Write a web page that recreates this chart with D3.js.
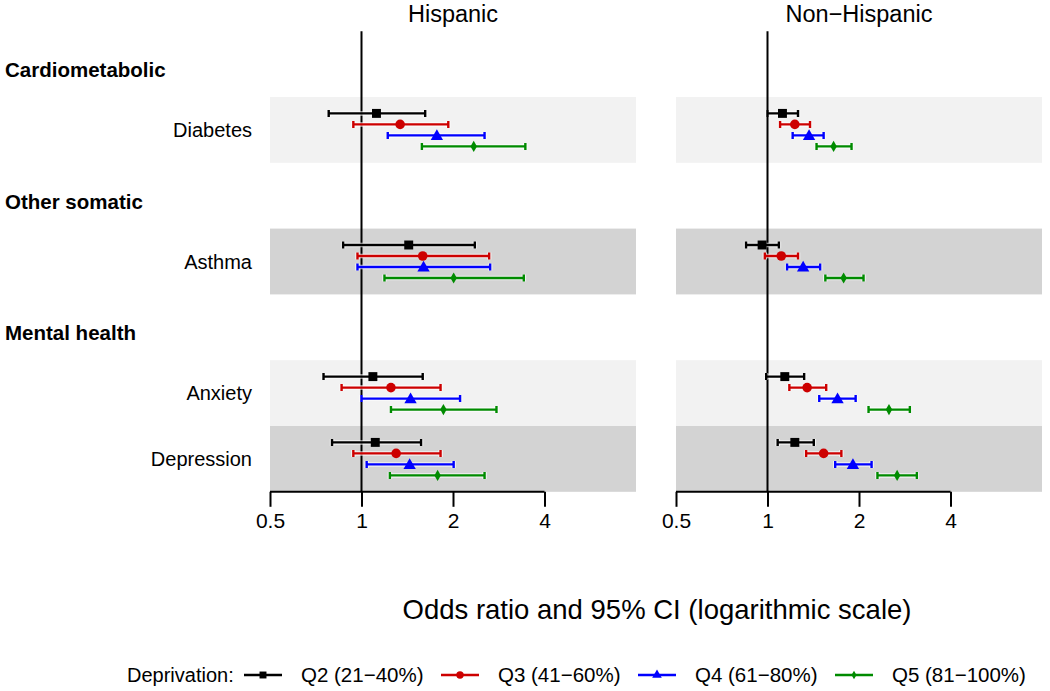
<!DOCTYPE html>
<html>
<head>
<meta charset="utf-8">
<script src="https://cdn.jsdelivr.net/npm/d3@7"></script>
<style>
  body { margin: 0; background: #fff; }
  svg { display: block; font-family: "Liberation Sans", Arial, Helvetica, sans-serif; }
</style>
</head>
<body>
<div id="output"></div>
<script>
// Panels, outcomes and deprivation quintiles
const ethnicities = ["Hispanic", "Non\u2212Hispanic"];
const groups = ["Cardiometabolic", "Other somatic", "Mental health"];
const outcomes = ["Diabetes", "Asthma", "Anxiety", "Depression"];
const outcomeRow = [0, 2, 4, 5];       // row index of each outcome
const groupRow = [0, 2, 4];            // header sits just above this row
const quintiles = ["Q2 (21\u221240%)", "Q3 (41\u221260%)", "Q4 (61\u221280%)", "Q5 (81\u2212100%)"];
const xTicks = [0.5, 1, 2, 4];

// Odds ratios [outcome][quintile]
const hispanicOR = [
  [1.12, 1.34, 1.77, 2.34],
  [1.43, 1.59, 1.60, 2.01],
  [1.09, 1.25, 1.45, 1.86],
  [1.11, 1.30, 1.44, 1.78]
];
const hispanicLower = [
  [0.78, 0.94, 1.22, 1.58],
  [0.87, 0.97, 0.97, 1.19],
  [0.75, 0.86, 1.00, 1.25],
  [0.80, 0.94, 1.04, 1.24]
];
const hispanicUpper = [
  [1.62, 1.93, 2.54, 3.46],
  [2.36, 2.63, 2.65, 3.42],
  [1.59, 1.82, 2.11, 2.78],
  [1.57, 1.82, 2.01, 2.54]
];
const nonHispanicOR = [
  [1.12, 1.23, 1.37, 1.65],
  [0.96, 1.11, 1.31, 1.78],
  [1.14, 1.35, 1.70, 2.51],
  [1.23, 1.53, 1.91, 2.67]
];
const nonHispanicLower = [
  [1.00, 1.10, 1.21, 1.45],
  [0.85, 0.98, 1.16, 1.55],
  [0.99, 1.18, 1.48, 2.15],
  [1.08, 1.34, 1.67, 2.30]
];
const nonHispanicUpper = [
  [1.26, 1.38, 1.53, 1.89],
  [1.09, 1.26, 1.49, 2.07],
  [1.32, 1.56, 1.95, 2.94],
  [1.42, 1.75, 2.20, 3.10]
];

const colors = ["#000000", "#CD0000", "#0000FF", "#008B00"];
const shapes = [d3.symbolSquare, d3.symbolCircle, d3.symbolTriangle, d3.symbolDiamond];
const shapeSizes = [80, 72, 66, 36];

function PlotGraph(parent_element = "output") {
  const W = 1050, H = 691;
  const svg = d3.select("#" + parent_element).append("svg")
    .attr("width", W)
    .attr("height", H);

  // Row scale: top of each 66px row band
  const rowH = 65.8;
  const y = d3.scaleLinear().domain([0, 1]).range([97, 97 + rowH]);
  const plotTop = y(-1), plotBottom = y(6);

  const panels = [
    {name: ethnicities[0], or: hispanicOR, lo: hispanicLower, hi: hispanicUpper,
     x: d3.scaleLog().domain([0.5, 8]).range([270, 636])},
    {name: ethnicities[1], or: nonHispanicOR, lo: nonHispanicLower, hi: nonHispanicUpper,
     x: d3.scaleLog().domain([0.5, 8]).range([676, 1042])}
  ];

  // Group headers and outcome labels
  groups.forEach((g, i) => {
    svg.append("text")
      .attr("x", 5)
      .attr("y", y(groupRow[i]) - 20)
      .attr("font-size", 20.5)
      .attr("font-weight", "bold")
      .text(g);
  });
  outcomes.forEach((o, i) => {
    svg.append("text")
      .attr("x", 252)
      .attr("y", y(outcomeRow[i] + 0.5) + 7)
      .attr("text-anchor", "end")
      .attr("font-size", 20)
      .text(o);
  });

  panels.forEach(p => {
    const x = p.x;
    const g = svg.append("g");

    // Shaded row bands
    outcomes.forEach((o, i) => {
      g.append("rect")
        .attr("x", x.range()[0])
        .attr("y", y(outcomeRow[i]))
        .attr("width", x.range()[1] - x.range()[0])
        .attr("height", rowH)
        .attr("fill", i % 2 === 0 ? "#f2f2f2" : "#d3d3d3");
    });

    // Panel title
    g.append("text")
      .attr("x", (x.range()[0] + x.range()[1]) / 2)
      .attr("y", 22)
      .attr("text-anchor", "middle")
      .attr("font-size", 23.5)
      .text(p.name);

    // Reference line at OR = 1
    g.append("line")
      .attr("x1", x(1)).attr("x2", x(1))
      .attr("y1", plotTop).attr("y2", plotBottom)
      .attr("stroke", "#000")
      .attr("stroke-width", 2);

    // X axis
    const axis = g.append("g")
      .attr("transform", `translate(0,${plotBottom})`)
      .call(d3.axisBottom(x).tickValues(xTicks).tickFormat(d3.format("")).tickSize(15).tickPadding(6));
    axis.select(".domain")
      .attr("d", `M${x(xTicks[0])},0H${x(xTicks[xTicks.length - 1])}`)
      .attr("stroke-width", 2);
    axis.selectAll(".tick line").attr("stroke-width", 2);
    axis.selectAll(".tick text")
      .attr("font-size", 21)
      .attr("font-family", "Liberation Sans, Arial, sans-serif")
      .attr("fill", "#000");

    // Error bars and point estimates
    outcomes.forEach((o, i) => {
      const cy0 = y(outcomeRow[i] + 0.5);
      quintiles.forEach((q, j) => {
        const cy = cy0 + (j - 1.5) * 11;
        const lo = x(p.lo[i][j]), hi = x(p.hi[i][j]), pt = x(p.or[i][j]);
        const path = `M${lo},${cy}H${hi}M${lo},${cy - 3.5}V${cy + 3.5}M${hi},${cy - 3.5}V${cy + 3.5}`;
        g.append("path").attr("d", path)
          .attr("fill", "none").attr("stroke", "#fff").attr("stroke-opacity", 0.7)
          .attr("stroke-width", 4.5);
        g.append("path").attr("d", path)
          .attr("fill", "none").attr("stroke", colors[j])
          .attr("stroke-width", 2.4);
        g.append("path")
          .attr("d", d3.symbol().type(shapes[j]).size(shapeSizes[j])())
          .attr("transform", `translate(${pt},${cy + (j === 2 ? 1 : 0)})`)
          .attr("fill", colors[j]);
      });
    });
  });

  // X axis title
  svg.append("text")
    .attr("x", 657)
    .attr("y", 619)
    .attr("text-anchor", "middle")
    .attr("font-size", 27.5)
    .text("Odds ratio and 95% CI (logarithmic scale)");

  // Legend
  const legY = 675;
  svg.append("text")
    .attr("x", 127)
    .attr("y", legY + 7)
    .attr("font-size", 20)
    .text("Deprivation:");
  const legend = svg.selectAll(".legend")
    .data(quintiles)
    .enter().append("g")
    .attr("class", "legend")
    .attr("transform", (d, i) => `translate(${244 + i * 197},${legY})`);
  legend.append("line")
    .attr("x1", 0).attr("x2", 38)
    .attr("stroke", (d, i) => colors[i])
    .attr("stroke-width", 2.4);
  legend.append("path")
    .attr("d", (d, i) => d3.symbol().type(shapes[i]).size(shapeSizes[i] * 0.6)())
    .attr("transform", "translate(19,0)")
    .attr("fill", (d, i) => colors[i]);
  legend.append("text")
    .attr("x", 57)
    .attr("y", 7)
    .attr("font-size", 20.5)
    .text(d => d);
}

document.addEventListener('DOMContentLoaded', (event) => {
  PlotGraph();
});
</script>
</body>
</html>
